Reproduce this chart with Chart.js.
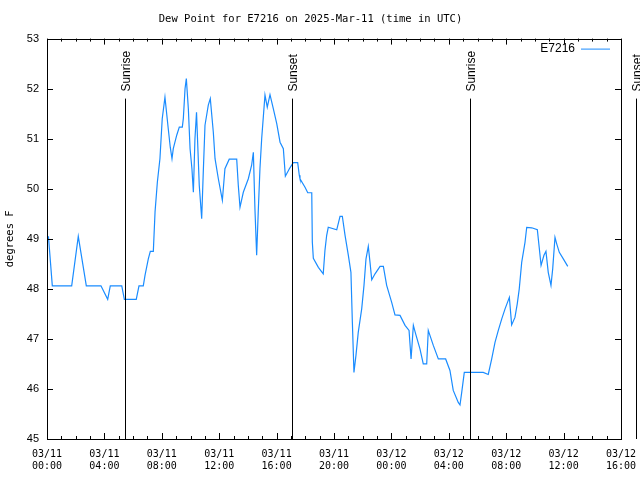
<!DOCTYPE html>
<html>
<head>
<meta charset="utf-8">
<title>Dew Point for E7216</title>
<script src="https://cdn.jsdelivr.net/npm/chart.js@4.4.1/dist/chart.umd.min.js"></script>
<style>
  html, body { margin: 0; padding: 0; background: #fff; }
  #wrap { width: 640px; height: 480px; }
</style>
</head>
<body>
<div id="wrap"><canvas id="dewChart" width="640" height="480"></canvas></div>
<script>
// hours since 03/11 00:00 UTC
var hours = [0.10, 0.37, 1.72, 2.18, 2.74, 3.76, 4.23, 4.41, 5.21, 5.39,
  6.22, 6.41, 6.71, 6.83, 7.06, 7.20, 7.41, 7.53, 7.69, 7.87,
  8.03, 8.22, 8.45, 8.59, 8.71, 8.80, 9.04, 9.22, 9.43, 9.50,
  9.62, 9.71, 9.85, 9.97, 10.10, 10.20, 10.31, 10.42, 10.61, 10.78,
  10.89, 11.01, 11.24, 11.38, 11.59, 11.71, 11.94, 12.22, 12.40, 12.70,
  13.22, 13.33, 13.45, 13.68, 14.03, 14.26, 14.38, 14.49, 14.61, 14.72,
  14.84, 14.96, 15.19, 15.35, 15.54, 15.77, 16.01, 16.24, 16.47, 16.61,
  16.89, 17.16, 17.47, 17.58, 17.63, 17.98, 18.17, 18.45, 18.49, 18.56,
  18.91, 19.25, 19.37, 19.49, 19.60, 20.19, 20.42, 20.58, 20.77, 21.00,
  21.18, 21.28, 21.39, 21.53, 21.69, 21.93, 22.09, 22.23, 22.39, 22.51,
  22.63, 22.86, 23.21, 23.44, 23.67, 24.02, 24.25, 24.60, 24.95, 25.23,
  25.37, 25.53, 25.69, 25.99, 26.22, 26.46, 26.57, 26.92, 27.27, 27.78,
  28.08, 28.31, 28.66, 28.78, 28.90, 29.08, 30.40, 30.75, 30.99, 31.22,
  31.45, 31.69, 31.92, 32.22, 32.38, 32.61, 32.77, 32.91, 33.08, 33.31,
  33.43, 33.78, 34.17, 34.31, 34.43, 34.63, 34.77, 34.93, 35.12, 35.24,
  35.40, 35.52, 35.70, 35.98, 36.29];

var dewPoint = [49.05, 48.06, 48.06, 49.05, 48.06, 48.06, 47.79, 48.06, 48.06, 47.79,
  47.79, 48.06, 48.06, 48.27, 48.60, 48.75, 48.75, 49.54, 50.13, 50.60,
  51.40, 51.83, 51.20, 50.83, 50.60, 50.80, 51.07, 51.23, 51.23, 51.40,
  52.00, 52.20, 51.60, 50.80, 50.40, 49.93, 51.00, 51.53, 50.07, 49.40,
  50.33, 51.27, 51.67, 51.80, 51.13, 50.60, 50.20, 49.77, 50.40, 50.59,
  50.59, 50.07, 49.63, 49.93, 50.20, 50.47, 50.73, 49.60, 48.67, 49.53,
  50.40, 51.00, 51.87, 51.63, 51.88, 51.60, 51.30, 50.93, 50.80, 50.25,
  50.40, 50.52, 50.52, 50.27, 50.20, 50.03, 49.92, 49.92, 48.93, 48.61,
  48.43, 48.30, 48.77, 49.07, 49.23, 49.18, 49.45, 49.45, 49.07, 48.67,
  48.33, 47.33, 46.33, 46.67, 47.13, 47.60, 48.07, 48.60, 48.85, 48.53,
  48.18, 48.30, 48.45, 48.45, 48.07, 47.73, 47.48, 47.47, 47.27, 47.17,
  46.60, 47.27, 47.10, 46.80, 46.50, 46.50, 47.17, 46.87, 46.60, 46.60,
  46.37, 45.97, 45.73, 45.68, 45.93, 46.33, 46.33, 46.29, 46.60, 46.93,
  47.17, 47.40, 47.60, 47.83, 47.28, 47.43, 47.70, 48.00, 48.53, 48.93,
  49.23, 49.22, 49.18, 48.80, 48.47, 48.67, 48.75, 48.33, 48.07, 48.40,
  49.03, 48.90, 48.73, 48.60, 48.45];

var sunTimes = [5.45, 17.10, 29.50, 41.08];
var sunLabels = ['Sunrise', 'Sunset', 'Sunrise', 'Sunset'];

var xTickLabels = [['03/11', '00:00'], ['03/11', '04:00'], ['03/11', '08:00'], ['03/11', '12:00'],
  ['03/11', '16:00'], ['03/11', '20:00'], ['03/12', '00:00'], ['03/12', '04:00'],
  ['03/12', '08:00'], ['03/12', '12:00'], ['03/12', '16:00']];

var seriesName = 'E7216';
var lineColor = '#1a8cff';
var monoFont = '"DejaVu Sans Mono", "Liberation Mono", monospace';
var sansFont = '"Liberation Sans", Arial, sans-serif';

// gnuplot-like frame, inward ticks, sun lines and key
var framePlugin = {
  id: 'frame',
  afterDraw: function (chart) {
    var ctx = chart.ctx;
    var a = chart.chartArea;
    var xs = chart.scales.x;
    var ys = chart.scales.y;
    ctx.save();
    ctx.strokeStyle = '#000';
    ctx.lineWidth = 1;

    // frame
    ctx.strokeRect(Math.round(a.left) + 0.5, Math.round(a.top) + 0.5,
      Math.round(a.right - a.left), Math.round(a.bottom - a.top));

    // x ticks: major every 4h, minor every hour
    ctx.beginPath();
    for (var h = 0; h <= 40; h++) {
      var px = Math.round(xs.getPixelForValue(h)) + 0.5;
      var len = (h % 4 === 0) ? 6 : 3;
      ctx.moveTo(px, a.bottom);
      ctx.lineTo(px, a.bottom - len);
      ctx.moveTo(px, a.top);
      ctx.lineTo(px, a.top + len);
    }
    // y ticks
    for (var v = 45; v <= 53; v++) {
      var py = Math.round(ys.getPixelForValue(v)) + 0.5;
      ctx.moveTo(a.left, py);
      ctx.lineTo(a.left + 6, py);
      ctx.moveTo(a.right, py);
      ctx.lineTo(a.right - 6, py);
    }
    ctx.stroke();

    // sunrise / sunset markers
    ctx.font = '12px ' + sansFont;
    ctx.fillStyle = '#000';
    for (var i = 0; i < sunTimes.length; i++) {
      var sx = Math.round(xs.getPixelForValue(sunTimes[i])) + 0.5;
      ctx.beginPath();
      ctx.moveTo(sx, a.top + 60);
      ctx.lineTo(sx, a.bottom);
      ctx.stroke();
      ctx.save();
      ctx.translate(sx + 1, a.top + 53);
      ctx.rotate(-Math.PI / 2);
      ctx.textAlign = 'left';
      ctx.textBaseline = 'middle';
      ctx.fillText(sunLabels[i], 0, 0);
      ctx.restore();
    }

    // key
    ctx.font = '12px ' + sansFont;
    ctx.textAlign = 'right';
    ctx.textBaseline = 'middle';
    ctx.fillText(seriesName, a.right - 46, a.top + 10);
    ctx.strokeStyle = lineColor;
    ctx.beginPath();
    ctx.moveTo(a.right - 40, a.top + 10.5);
    ctx.lineTo(a.right - 11, a.top + 10.5);
    ctx.stroke();
    ctx.restore();
  }
};

var ctx = document.getElementById('dewChart').getContext('2d');
var dewChart = new Chart(ctx, {
  type: 'line',
  data: {
    datasets: [{
      label: seriesName,
      data: hours.map(function (h, i) { return { x: h, y: dewPoint[i] }; }),
      borderColor: lineColor,
      borderWidth: 1.2,
      pointRadius: 0,
      tension: 0,
      fill: false
    }]
  },
  options: {
    responsive: false,
    animation: false,
    layout: { padding: { left: 0, right: 19, top: 0, bottom: 0 } },
    plugins: {
      legend: { display: false },
      tooltip: { enabled: false },
      title: {
        display: true,
        text: 'Dew Point for E7216 on 2025-Mar-11 (time in UTC)',
        color: '#000',
        font: { family: monoFont, size: 10.5, weight: 'normal' },
        padding: { top: 13, bottom: 13 }
      }
    },
    scales: {
      x: {
        type: 'linear',
        min: 0,
        max: 40,
        afterFit: function (s) {
          s.height = 41;
          s.paddingLeft = 0;
          s.paddingRight = 0;
        },
        afterBuildTicks: function (s) {
          s.ticks = xTickLabels.map(function (t, i) { return { value: i * 4 }; });
        },
        ticks: {
          autoSkip: false,
          maxRotation: 0,
          padding: 9,
          color: '#000',
          font: { family: monoFont, size: 10 },
          callback: function (value) { return xTickLabels[Math.round(value / 4)]; }
        },
        grid: { display: false, drawTicks: false },
        border: { display: false }
      },
      y: {
        min: 45,
        max: 53,
        afterFit: function (s) { s.width = 47; },
        ticks: {
          stepSize: 1,
          padding: 8,
          color: '#000',
          font: { family: sansFont, size: 11 }
        },
        title: {
          display: true,
          text: 'degrees F',
          color: '#000',
          padding: { top: 4, bottom: 0 },
          font: { family: monoFont, size: 10.5 }
        },
        grid: { display: false, drawTicks: false },
        border: { display: false }
      }
    }
  },
  plugins: [framePlugin]
});
</script>
</body>
</html>
